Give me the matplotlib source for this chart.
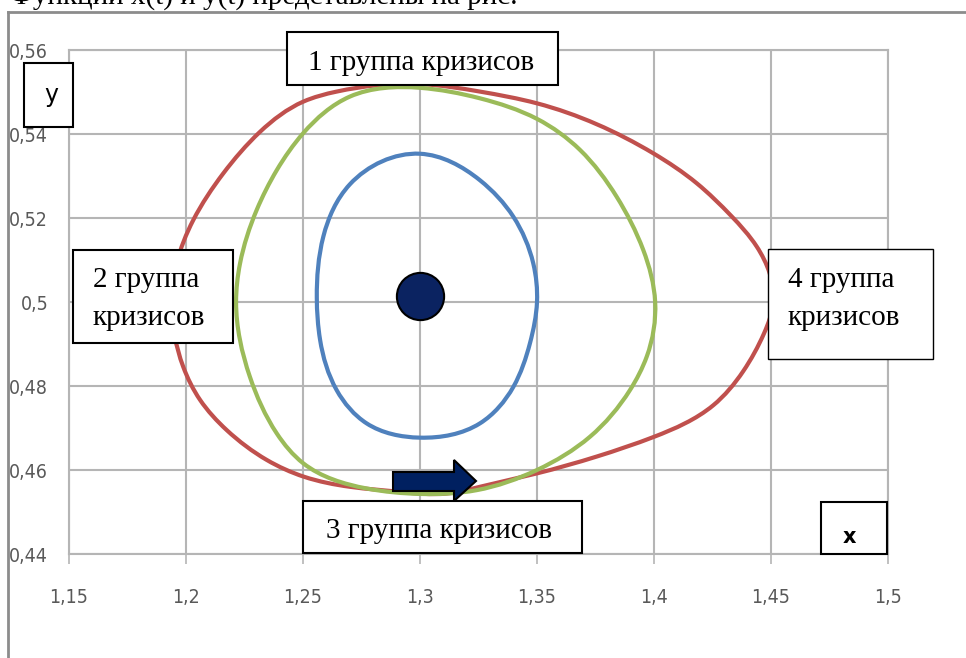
import matplotlib
matplotlib.use("Agg")
import numpy as np
import matplotlib.pyplot as plt
from matplotlib.path import Path
from matplotlib.patches import PathPatch, Rectangle, Polygon
from matplotlib.lines import Line2D
from matplotlib.ticker import FixedLocator, FuncFormatter

# точки траекторий (x, y), обход против часовой стрелки от правой точки
blue_x = [1.3500, 1.3484, 1.3399, 1.3256, 1.3000, 1.2700, 1.2587, 1.2559,
          1.2573, 1.2644, 1.2772, 1.3000, 1.3256, 1.3399, 1.3470]
blue_y = [0.5000, 0.5092, 0.5203, 0.5290, 0.5353, 0.5280, 0.5156, 0.5010,
          0.4910, 0.4790, 0.4711, 0.4677, 0.4711, 0.4798, 0.4902]

green_x = [1.4005, 1.3954, 1.3840, 1.3684, 1.3500, 1.3256, 1.3000, 1.2700,
           1.2501, 1.2388, 1.2302, 1.2231, 1.2214, 1.2273, 1.2388, 1.2501,
           1.2772, 1.3000, 1.3242, 1.3500, 1.3726, 1.3897, 1.3969]
green_y = [0.5000, 0.5124, 0.5251, 0.5362, 0.5436, 0.5485, 0.5510, 0.5489,
           0.5402, 0.5314, 0.5219, 0.5092, 0.5000, 0.4822, 0.4687, 0.4616,
           0.4556, 0.4543, 0.4552, 0.4600, 0.4679, 0.4790, 0.4870]

red_x = [1.4510, 1.4439, 1.4330, 1.4182, 1.3997, 1.3500, 1.3256,
         1.3000, 1.2644, 1.2501, 1.2316, 1.2159, 1.2031, 1.1960, 1.1939,
         1.1988, 1.2060, 1.2174, 1.2345, 1.2504, 1.2701, 1.2914, 1.3114,
         1.3256, 1.3500, 1.3755, 1.4000, 1.4253, 1.4381, 1.4470]
red_y = [0.5000, 0.5132, 0.5205, 0.5283, 0.5354, 0.5473, 0.5501,
         0.5519, 0.5501, 0.5477, 0.5405, 0.5306, 0.5195, 0.5092, 0.5000,
         0.4846, 0.4767, 0.4695, 0.4624, 0.4584, 0.4560, 0.4548, 0.4544,
         0.4560, 0.4592, 0.4632, 0.4679, 0.4754, 0.4835, 0.4925]

# точка равновесия
eq_x = [1.3]
eq_y = [0.5015]

x_ticks = [1.15, 1.2, 1.25, 1.3, 1.35, 1.4, 1.45, 1.5]
y_ticks = [0.44, 0.46, 0.48, 0.5, 0.52, 0.54, 0.56]

W, H = 966, 658


def fx(px):
    return px / W


def fy(py):
    return 1 - py / H


def smooth_loop(xs, ys):
    # замкнутый интерполяционный кубический сплайн (C2) через все точки,
    # записанный как кривые Безье
    sx, sy = 2340.0, 4200.0  # примерно пиксели на единицу по осям
    P = np.column_stack([np.array(xs) * sx, np.array(ys) * sy])
    n = len(P)
    nxt = np.roll(P, -1, axis=0)
    h = np.linalg.norm(nxt - P, axis=1)          # h[i]: отрезок i -> i+1
    delta = (nxt - P) / h[:, None]
    A = np.zeros((n, n))
    rhs = np.zeros((n, 2))
    for i in range(n):
        hp, hc = h[i - 1], h[i]
        A[i, i - 1] += hc
        A[i, i] += 2 * (hp + hc)
        A[i, (i + 1) % n] += hp
        rhs[i] = 3 * (hc * delta[i - 1] + hp * delta[i])
    m = np.linalg.solve(A, rhs)
    verts = [P[0]]
    codes = [Path.MOVETO]
    for i in range(n):
        j = (i + 1) % n
        verts += [P[i] + m[i] * h[i] / 3, P[j] - m[j] * h[i] / 3, P[j]]
        codes += [Path.CURVE4] * 3
    verts = np.array(verts) / [sx, sy]
    return Path(verts, codes)


fig = plt.figure(figsize=(W / 100, H / 100), dpi=100)
ax = fig.add_axes([fx(69), fy(554), (888 - 69) / W, (554 - 50) / H])

grid_c = '#b5b5b5'
ax.set_xlim(1.15, 1.5)
ax.set_ylim(0.44, 0.56)
ax.xaxis.set_major_locator(FixedLocator(x_ticks))
ax.yaxis.set_major_locator(FixedLocator(y_ticks))
comma = FuncFormatter(lambda v, p: ('%g' % round(v, 4)).replace('.', ','))
ax.xaxis.set_major_formatter(comma)
ax.yaxis.set_major_formatter(comma)
ax.grid(True, color=grid_c, lw=1.5)
ax.set_axisbelow(True)
for s in ax.spines.values():
    s.set_color(grid_c)
    s.set_linewidth(1.5)
ax.tick_params(axis='x', length=7.5, width=1.2, color=grid_c, pad=17,
               labelcolor='#595959', labelsize=14)
ax.tick_params(axis='y', length=0, pad=15, labelcolor='#595959', labelsize=14)
for lab in ax.get_xticklabels() + ax.get_yticklabels():
    lab.set_fontfamily('DejaVu Sans')
    lab.set_fontstretch('condensed')

for xs, ys, col in [(red_x, red_y, '#c0504d'), (green_x, green_y, '#9bbb59'),
                    (blue_x, blue_y, '#4f81bd')]:
    ax.add_patch(PathPatch(smooth_loop(xs, ys), fill=False, edgecolor=col,
                           lw=3.0, zorder=3))

ax.plot(eq_x, eq_y, 'o', ms=34, color='#0b2361', mec='black', mew=1.5, zorder=4)

# рамка документа
fig.add_artist(Line2D([fx(8), 1], [fy(12), fy(12)], color='#8c8c8c', lw=2))
fig.add_artist(Line2D([fx(8), fx(8)], [fy(12), 0], color='#8c8c8c', lw=2))

# обрезанная строка текста сверху
fig.text(fx(10), fy(4), 'Функции x(t) и y(t) представлены на рис.',
         family='Liberation Serif', fontsize=21, va='baseline')


def box(l, t, r, b, lw=1.5):
    fig.add_artist(Rectangle((fx(l), fy(b)), (r - l) / W, (b - t) / H,
                             transform=fig.transFigure, facecolor='white',
                             edgecolor='black', lw=lw, zorder=5))


serif = dict(family='Liberation Serif', fontsize=21, va='baseline', zorder=6)

box(287, 32, 558, 85)
fig.text(fx(421), fy(70), '1 группа кризисов', ha='center', **serif)

box(73, 250, 233, 343)
fig.text(fx(93), fy(287), '2 группа', **serif)
fig.text(fx(93), fy(325), 'кризисов', **serif)

box(768, 249, 933, 359, lw=1)
fig.text(fx(788), fy(287), '4 группа', **serif)
fig.text(fx(788), fy(325), 'кризисов', **serif)

box(303, 501, 582, 553)
fig.text(fx(439), fy(538), '3 группа кризисов', ha='center', **serif)

box(24, 63, 73, 127)
fig.text(fx(51), fy(102), 'y', ha='center', va='baseline', fontsize=17,
         family='DejaVu Sans', zorder=6)

box(821, 502, 887, 554)
fig.text(fx(849), fy(543), 'x', ha='center', va='baseline', fontsize=15,
         family='DejaVu Sans', fontweight='bold', zorder=6)

# стрелка направления движения
arrow_px = [(393, 472), (454, 472), (454, 460), (476, 481), (454, 501),
            (454, 491), (393, 491)]
fig.add_artist(Polygon([(fx(a), fy(b)) for a, b in arrow_px], closed=True,
                       transform=fig.transFigure, facecolor='#002060',
                       edgecolor='black', lw=1.5, zorder=5))

fig.savefig('out.png', dpi=100)
